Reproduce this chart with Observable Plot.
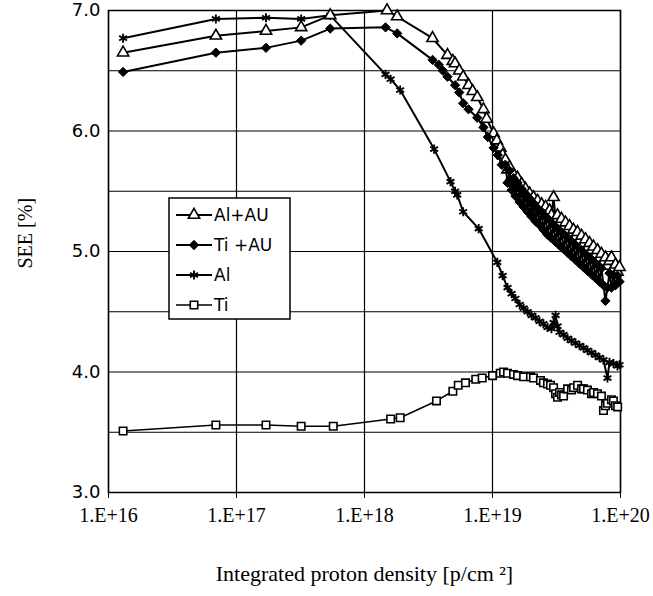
<!DOCTYPE html>
<html><head><meta charset="utf-8">
<script src="https://cdn.jsdelivr.net/npm/d3@7"></script>
<script src="https://cdn.jsdelivr.net/npm/@observablehq/plot@0.6"></script>
<style>
body{margin:0;background:#fff;}
#wrap{position:relative;width:653px;height:596px;}
#legend{position:absolute;left:168px;top:197px;}
</style></head><body><div id="wrap"></div>
<script>
// ---- axis definitions ----
const xTicks = [1e16, 1e17, 1e18, 1e19, 1e20];
const xTickLabels = ["1.E+16", "1.E+17", "1.E+18", "1.E+19", "1.E+20"];
const yGrid = [3, 3.5, 4, 4.5, 5, 5.5, 6, 6.5, 7];
const yLabelTicks = [3, 4, 5, 6, 7];
const yTickLabels = ["3.0", "4.0", "5.0", "6.0", "7.0"];
const xTitle = "Integrated proton density [p/cm \u00B2]";
const yTitle = "SEE [%]";
const serif = "'Liberation Serif', 'Times New Roman', serif";
const sans = "'DejaVu Sans', sans-serif";

// ---- series ----
const seriesNames = ["Al+AU", "Ti +AU", "Al", "Ti"];

// shared proton densities of the densely sampled high-dose part
const denseX = [1.26e19, 1.31e19, 1.36e19, 1.41e19, 1.46e19, 1.51e19, 1.57e19, 1.63e19, 1.69e19, 1.75e19, 1.81e19, 1.88e19, 1.95e19, 2.02e19, 2.09e19, 2.17e19, 2.25e19, 2.33e19, 2.42e19, 2.5e19, 2.6e19, 2.69e19, 2.79e19, 2.89e19, 3.0e19, 3.11e19, 3.22e19, 3.34e19, 3.46e19, 3.59e19, 3.72e19, 3.86e19, 4.0e19, 4.14e19, 4.29e19, 4.45e19, 4.61e19, 4.78e19, 4.96e19, 5.14e19, 5.33e19, 5.52e19, 5.73e19, 5.94e19, 6.15e19, 6.38e19, 6.61e19, 6.85e19, 7.1e19, 7.36e19, 7.63e19, 7.91e19, 8.2e19, 8.5e19, 8.81e19, 9.14e19, 9.47e19, 9.82e19];

const alAuEarlyX = [1.3e16, 6.9e16, 1.7e17, 3.2e17, 5.4e17, 1.5e18, 1.8e18, 3.4e18, 4.45e18, 4.9e18, 5.1e18, 5.5e18, 5.9e18, 6.5e18, 7.0e18, 7.6e18, 8.5e18, 9.0e18, 1.02e19, 1.08e19, 1.15e19, 1.2e19];
const alAuEarlyY = [6.65, 6.79, 6.83, 6.86, 6.96, 7.0, 6.95, 6.77, 6.63, 6.58, 6.56, 6.50, 6.45, 6.38, 6.33, 6.28, 6.18, 6.10, 5.98, 5.92, 5.86, 5.80];
const alAuDenseY = [5.76, 5.68, 5.70, 5.62, 5.64, 5.57, 5.61, 5.53, 5.56, 5.48, 5.52, 5.44, 5.48, 5.41, 5.45, 5.38, 5.42, 5.35, 5.39, 5.32, 5.37, 5.30, 5.34, 5.30, 5.45, 5.27, 5.30, 5.23, 5.27, 5.20, 5.24, 5.17, 5.21, 5.14, 5.18, 5.12, 5.16, 5.09, 5.13, 5.06, 5.10, 5.03, 5.07, 5.01, 5.04, 4.97, 5.01, 4.94, 4.98, 4.91, 4.95, 4.88, 4.92, 4.95, 4.86, 4.89, 4.83, 4.87];

const tiAuEarlyX = [1.3e16, 6.9e16, 1.7e17, 3.2e17, 5.4e17, 1.46e18, 1.8e18, 3.4e18, 3.8e18, 4.1e18, 4.45e18, 5.1e18, 5.5e18, 5.9e18, 6.5e18, 7.6e18, 8.5e18, 9.2e18, 1.02e19, 1.1e19, 1.18e19];
const tiAuEarlyY = [6.49, 6.65, 6.69, 6.75, 6.85, 6.86, 6.81, 6.59, 6.55, 6.50, 6.45, 6.38, 6.32, 6.23, 6.18, 6.11, 6.03, 5.95, 5.86, 5.80, 5.72];
const tiAuDenseY = [5.72, 5.57, 5.67, 5.51, 5.61, 5.46, 5.57, 5.41, 5.52, 5.37, 5.48, 5.33, 5.44, 5.29, 5.40, 5.25, 5.36, 5.22, 5.33, 5.18, 5.29, 5.14, 5.26, 5.11, 5.22, 5.08, 5.19, 5.05, 5.16, 5.02, 5.13, 4.99, 5.10, 4.96, 5.07, 4.93, 5.04, 4.90, 5.01, 4.87, 4.98, 4.84, 4.95, 4.81, 4.92, 4.78, 4.89, 4.75, 4.86, 4.72, 4.59, 4.70, 4.82, 4.70, 4.80, 4.72, 4.80, 4.75];

const alX = [1.3e16, 6.9e16, 1.7e17, 3.2e17, 5.4e17, 1.46e18, 1.6e18, 1.9e18, 3.5e18, 4.7e18, 5.1e18, 5.3e18, 5.9e18, 7.8e18, 1.09e19, 1.2e19, 1.31e19, 1.41e19, 1.51e19, 1.63e19, 1.75e19, 1.88e19, 2.02e19, 2.17e19, 2.33e19, 2.5e19, 2.69e19, 2.89e19, 3.0e19, 3.11e19, 3.22e19, 3.34e19, 3.59e19, 3.86e19, 4.14e19, 4.45e19, 4.78e19, 5.14e19, 5.52e19, 5.94e19, 6.38e19, 6.85e19, 7.36e19, 7.91e19, 8.2e19, 8.81e19, 9.47e19, 9.82e19];
const alY = [6.77, 6.93, 6.94, 6.93, 6.96, 6.47, 6.43, 6.34, 5.85, 5.58, 5.50, 5.47, 5.33, 5.19, 4.91, 4.80, 4.70, 4.65, 4.61, 4.56, 4.53, 4.50, 4.47, 4.45, 4.42, 4.40, 4.37, 4.36, 4.41, 4.47, 4.38, 4.33, 4.31, 4.28, 4.26, 4.24, 4.22, 4.20, 4.18, 4.16, 4.14, 4.12, 4.10, 3.95, 4.08, 4.07, 4.05, 4.06];

const tiX = [1.3e16, 6.9e16, 1.7e17, 3.2e17, 5.7e17, 1.6e18, 1.9e18, 3.65e18, 4.9e18, 5.4e18, 6.15e18, 7.4e18, 8.3e18, 1.0e19, 1.15e19, 1.22e19, 1.31e19, 1.46e19, 1.57e19, 1.75e19, 1.98e19, 2.09e19, 2.37e19, 2.5e19, 2.69e19, 2.84e19, 3.0e19, 3.11e19, 3.22e19, 3.34e19, 3.46e19, 3.59e19, 3.86e19, 4.14e19, 4.3e19, 4.62e19, 4.96e19, 5.14e19, 5.52e19, 5.94e19, 6.16e19, 6.61e19, 7.1e19, 7.36e19, 7.63e19, 7.91e19, 8.5e19, 8.81e19, 9.14e19, 9.5e19];
const tiY = [3.51, 3.56, 3.56, 3.55, 3.55, 3.61, 3.62, 3.76, 3.84, 3.89, 3.91, 3.94, 3.95, 3.97, 3.99, 4.00, 3.99, 3.98, 3.97, 3.96, 3.96, 3.95, 3.93, 3.91, 3.90, 3.89, 3.87, 3.82, 3.79, 3.83, 3.81, 3.80, 3.86, 3.85, 3.87, 3.89, 3.86, 3.86, 3.85, 3.82, 3.83, 3.82, 3.80, 3.68, 3.72, 3.74, 3.77, 3.76, 3.72, 3.71];

const styles = {
  "Al+AU":  {symbol: "triangle", fill: "white", stroke: "black", r: 4.2, sw: 1.6, lw: 2},
  "Ti +AU": {symbol: "diamond2", fill: "black", stroke: "black", r: 4.2, sw: 1, lw: 2},
  "Al":     {symbol: "asterisk", fill: "none", stroke: "black", r: 4.3, sw: 1.9, lw: 2},
  "Ti":     {symbol: "square", fill: "white", stroke: "black", r: 4.2, sw: 1.6, lw: 1.6}
};

const build = (name, xs, ys) => xs.map((x, i) => ({series: name, x, y: ys[i]}));
const seriesData = {
  "Al+AU": build("Al+AU", [...alAuEarlyX, ...denseX], [...alAuEarlyY, ...alAuDenseY]),
  "Ti +AU": build("Ti +AU", [...tiAuEarlyX, ...denseX], [...tiAuEarlyY, ...tiAuDenseY]),
  "Al": build("Al", alX, alY),
  "Ti": build("Ti", tiX, tiY)
};

const seriesMarks = [];
for (const name of ["Ti", "Al", "Al+AU", "Ti +AU"]) {
  const s = styles[name];
  seriesMarks.push(Plot.line(seriesData[name], {x: "x", y: "y", stroke: "black", strokeWidth: s.lw}));
  seriesMarks.push(Plot.dot(seriesData[name], {x: "x", y: "y", symbol: () => s.symbol, r: s.r, fill: s.fill, stroke: s.stroke, strokeWidth: s.sw}));
}

const chart = Plot.plot({
  width: 653,
  height: 596,
  marginLeft: 108,
  marginRight: 33,
  marginTop: 10,
  marginBottom: 104,
  x: {type: "log", domain: [1e16, 1e20]},
  y: {domain: [3, 7]},
  symbol: {type: "identity"},
  style: {background: "white", color: "black"},
  marks: [
    Plot.gridX(xTicks, {stroke: "black", strokeOpacity: 1, strokeWidth: 1.2}),
    Plot.gridY(yGrid, {stroke: "black", strokeOpacity: 1, strokeWidth: 1.2}),
    Plot.frame({stroke: "black", strokeWidth: 1.5}),
    Plot.axisX(xTicks, {tickFormat: d => xTickLabels[xTicks.indexOf(d)], tickSize: 6, tickPadding: 9, fontSize: 20, fontFamily: serif, label: null}),
    Plot.axisY(yLabelTicks, {tickFormat: d => yTickLabels[yLabelTicks.indexOf(d)], tickSize: 0, tickPadding: 8, fontSize: 18, fontFamily: sans, label: null}),
    Plot.text([xTitle], {frameAnchor: "bottom", dy: 88, fontSize: 22, fontFamily: serif, fill: "black"}),
    Plot.text([yTitle], {frameAnchor: "left", dx: -83, dy: 17, rotate: -90, fontSize: 20, fontFamily: serif, fill: "black"}),
    ...seriesMarks
  ]
});
document.getElementById("wrap").appendChild(chart);

// ---- legend ----
const lw = 121, lh = 121;
const leg = d3.select("#wrap").append("svg").attr("id", "legend").attr("width", lw + 2).attr("height", lh + 2);
leg.append("rect").attr("x", 1).attr("y", 1).attr("width", lw).attr("height", lh).attr("fill", "white").attr("stroke", "black").attr("stroke-width", 1.5);
const symMap = {triangle: d3.symbolTriangle, diamond2: d3.symbolDiamond2, asterisk: d3.symbolAsterisk, square: d3.symbolSquare};
seriesNames.forEach((name, i) => {
  const s = styles[name];
  const cy = 18 + i * 30;
  const g = leg.append("g");
  g.append("line").attr("x1", 8).attr("x2", 44).attr("y1", cy).attr("y2", cy).attr("stroke", "black").attr("stroke-width", s.lw);
  g.append("path").attr("transform", `translate(26,${cy})`)
    .attr("d", d3.symbol(symMap[s.symbol], s.r * s.r * Math.PI)())
    .attr("fill", s.fill).attr("stroke", s.stroke).attr("stroke-width", s.sw);
  g.append("text").attr("x", 46).attr("y", cy).attr("dy", "0.35em")
    .attr("font-family", sans).attr("font-size", 17).attr("fill", "black").text(name);
});
</script>
</body></html>
